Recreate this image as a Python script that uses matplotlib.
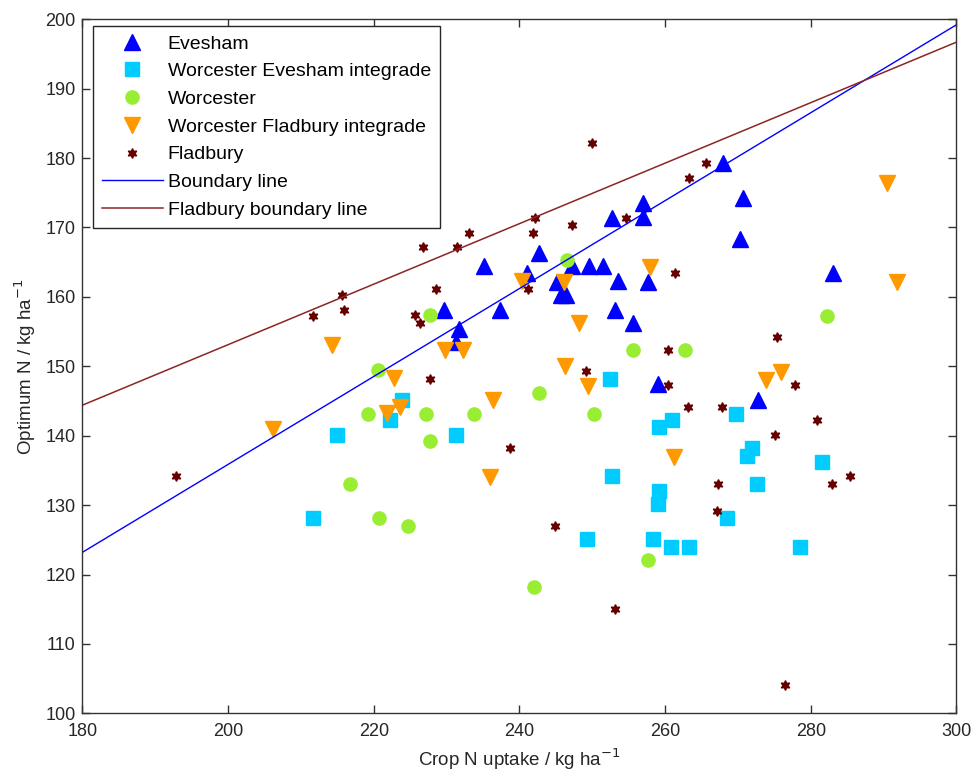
import matplotlib
matplotlib.use("Agg")
import matplotlib.pyplot as plt

# ---------------------------------------------------------
# Data
# ---------------------------------------------------------
evesham_x = [252.7, 257.0, 257.0, 242.7, 235.2, 241.0, 247.2, 249.6, 251.5, 245.1,
             245.7, 246.4, 253.5, 257.7, 229.7, 237.4, 253.1, 255.6, 231.7, 231.3,
             267.9, 270.7, 270.3, 283.1, 259.0, 272.8]
evesham_y = [171.4, 173.5, 171.5, 166.3, 164.4, 163.5, 164.4, 164.4, 164.4, 162.2,
             160.3, 160.3, 162.3, 162.2, 158.1, 158.1, 158.1, 156.3, 155.4, 153.5,
             179.3, 174.2, 168.4, 163.4, 147.4, 145.2]

we_int_x = [252.5, 269.7, 261.0, 259.2, 271.9, 271.2, 281.5, 252.7, 272.6, 259.2,
            259.0, 268.5, 249.3, 258.3, 260.8, 263.3, 278.5, 211.6, 214.9, 231.3,
            223.9, 222.2]
we_int_y = [148.1, 143.1, 142.3, 141.2, 138.2, 137.1, 136.2, 134.2, 133.1, 132.0,
            130.2, 128.1, 125.1, 125.1, 124.0, 124.0, 124.0, 128.1, 140.1, 140.1,
            145.2, 142.3]

worcester_x = [246.5, 227.7, 255.6, 262.8, 282.3, 242.7, 250.3, 257.7, 242.0, 216.8,
               220.7, 224.7, 227.7, 220.6, 219.2, 227.2, 233.7]
worcester_y = [165.3, 157.4, 152.3, 152.3, 157.3, 146.2, 143.1, 122.1, 118.2, 133.1,
               128.1, 127.0, 139.2, 149.4, 143.1, 143.1, 143.1]

wf_int_x = [240.3, 246.1, 257.9, 248.2, 229.8, 232.2, 246.3, 222.8, 290.5, 291.9,
            273.9, 275.9, 249.4, 261.2, 236.0, 206.1, 214.3, 223.6, 221.8, 236.4]
wf_int_y = [162.3, 162.2, 164.3, 156.2, 152.3, 152.3, 150.1, 148.3, 176.4, 162.2,
            148.0, 149.2, 147.2, 137.0, 134.1, 141.0, 153.1, 144.2, 143.2, 145.1]

fladbury_x = [250.0, 254.6, 242.2, 247.2, 241.8, 233.1, 226.7, 231.4, 241.2, 261.3,
              228.5, 225.6, 226.3, 260.4, 249.2, 227.7, 265.6, 263.3, 275.4, 260.4,
              277.9, 263.1, 267.8, 280.9, 275.1, 238.7, 285.4, 267.2, 282.9, 267.1,
              244.9, 253.1, 276.5, 192.8, 215.6, 211.7, 215.9]
fladbury_y = [182.2, 171.4, 171.4, 170.3, 169.2, 169.2, 167.2, 167.2, 161.2, 163.4,
              161.2, 157.4, 156.3, 152.3, 149.3, 148.2, 179.3, 177.2, 154.2, 147.3,
              147.3, 144.2, 144.2, 142.3, 140.1, 138.2, 134.2, 133.1, 133.1, 129.1,
              127.0, 115.1, 104.1, 134.2, 160.3, 157.2, 158.1]

boundary_x = [180, 300]
boundary_y = [123.2, 199.2]
fladbury_boundary_x = [180, 300]
fladbury_boundary_y = [144.4, 196.7]

x_ticks = [180, 200, 220, 240, 260, 280, 300]
y_ticks = [100, 110, 120, 130, 140, 150, 160, 170, 180, 190, 200]

# ---------------------------------------------------------
# Figure
# ---------------------------------------------------------
plt.rcParams['font.family'] = ['Liberation Sans', 'DejaVu Sans']

fig = plt.figure(figsize=(9.77, 7.83), dpi=100)
ax = fig.add_axes([0.0844, 0.089, 0.8945, 0.8864])

ax.plot(evesham_x, evesham_y, linestyle='none', marker='^', ms=11,
        color='#0000ff', mec='#0000ff', label='Evesham')
ax.plot(we_int_x, we_int_y, linestyle='none', marker='s', ms=9.5,
        color='#00ccff', mec='#00ccff', label='Worcester Evesham integrade')
ax.plot(worcester_x, worcester_y, linestyle='none', marker='o', ms=9.5,
        color='#99ee33', mec='#99ee33', label='Worcester')
ax.plot(wf_int_x, wf_int_y, linestyle='none', marker='v', ms=11,
        color='#ff9900', mec='#ff9900', label='Worcester Fladbury integrade')
ax.plot(fladbury_x, fladbury_y, linestyle='none', marker=(6, 1, 0), ms=7,
        color='#660000', mec='#660000', label='Fladbury')
ax.plot(boundary_x, boundary_y, color='#0000ff', lw=1, label='Boundary line')
ax.plot(fladbury_boundary_x, fladbury_boundary_y, color='#8b2525', lw=1.1,
        label='Fladbury boundary line')

ax.set_xlim(180, 300)
ax.set_ylim(100, 200)
ax.set_xticks(x_ticks)
ax.set_yticks(y_ticks)
ax.tick_params(direction='in', length=6, width=1, top=True, right=True,
               labelsize=13, colors='#333333', labelcolor='#262626', pad=5)
ax.tick_params(axis='x', pad=7)
for sp in ax.spines.values():
    sp.set_color('#333333')
    sp.set_linewidth(1)

ax.set_xlabel('Crop N uptake / kg ha$^{-1}$', fontsize=13.5, color='#262626', labelpad=5)
ax.set_ylabel('Optimum N / kg ha$^{-1}$', fontsize=13.5, color='#262626', labelpad=5)

leg = ax.legend(loc='upper left', bbox_to_anchor=(0.012, 0.99), borderaxespad=0,
                fontsize=14, handlelength=3.15, handletextpad=0.25, labelspacing=0.52,
                borderpad=0.45, fancybox=False, framealpha=1, edgecolor='#262626',
                numpoints=1)
leg.get_frame().set_linewidth(1)

fig.savefig('out.png', dpi=100)
